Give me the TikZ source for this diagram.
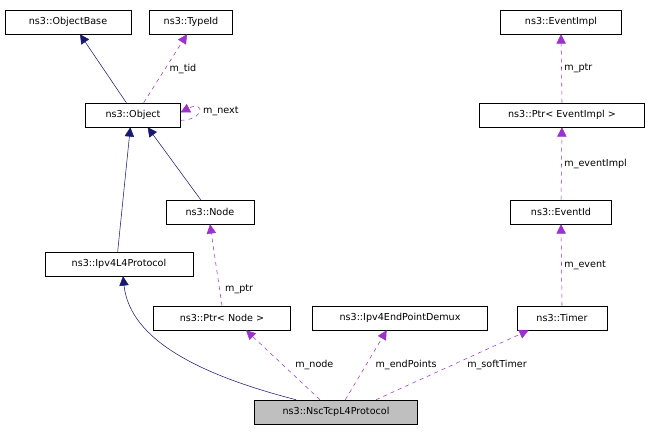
\documentclass[tikz,border=0pt]{standalone}
\usepackage{fontspec}
\setmainfont{DejaVu Sans}
\usetikzlibrary{arrows.meta}
\definecolor{inheritblue}{RGB}{25,25,112}
\definecolor{usagepurple}{RGB}{154,50,205}
\definecolor{mainbox}{RGB}{191,191,191}

\tikzset{
  cls/.style={draw, rectangle, inner sep=0pt, minimum height=18pt, font=\fontsize{7.2}{8}\selectfont},
  inherit/.style={draw=inheritblue, -{Triangle[length=7pt,width=7pt,fill=inheritblue]}},
  usage/.style={draw=usagepurple, dashed, -{Triangle[length=7pt,width=7pt,fill=usagepurple]}},
  lbl/.style={font=\fontsize{7.2}{8}\selectfont, fill=white, inner sep=1pt}
}

\begin{document}
\begin{tikzpicture}[x=0.75pt,y=-0.75pt]
    \useasboundingbox (0,0) rectangle (652,435);

    \node[cls, minimum width=94.5pt]  (objbase) at (68,22)   {ns3::ObjectBase};
    \node[cls, minimum width=62pt]    (typeid)  at (191,22)  {ns3::TypeId};
    \node[cls, minimum width=91pt]    (evimpl)  at (561,22)  {ns3::EventImpl};
    \node[cls, minimum width=71pt]    (object)  at (133,115) {ns3::Object};
    \node[cls, minimum width=124pt]   (ptrev)   at (562,115) {ns3::Ptr< EventImpl >};
    \node[cls, minimum width=66pt]    (node)    at (210,212) {ns3::Node};
    \node[cls, minimum width=76pt]    (evid)    at (561,212) {ns3::EventId};
    \node[cls, minimum width=111pt]   (ipv4l4)  at (119,264) {ns3::Ipv4L4Protocol};
    \node[cls, minimum width=103pt]   (ptrnode) at (222,318) {ns3::Ptr< Node >};
    \node[cls, minimum width=131pt]   (demux)   at (400,318) {ns3::Ipv4EndPointDemux};
    \node[cls, minimum width=67.5pt]  (timer)   at (562,318) {ns3::Timer};
    \node[cls, minimum width=122pt, fill=mainbox] (nsc) at (336,412) {ns3::NscTcpL4Protocol};

    % inheritance
    \draw[inherit] ([xshift=-5pt]object.north) -- ([xshift=9pt]objbase.south);
    \draw[inherit] ([xshift=-7pt]node.north) -- ([xshift=11pt]object.south);
    \draw[inherit] ([xshift=-1pt]ipv4l4.north) -- ([xshift=-2pt]object.south);
    \draw[inherit] ([xshift=-30pt]nsc.north) .. controls (200,375) and (130,340) .. ([xshift=3pt]ipv4l4.south);

    % usage
    \draw[usage] ([xshift=8pt]object.north) -- node[lbl, pos=0.5, right=2pt] {m\_tid} ([xshift=-3pt]typeid.south);
    \draw[usage] ([yshift=-4pt]object.east) .. controls (205,120) and (205,100) .. ([yshift=2pt]object.east)
        node[lbl, pos=0.5, right=2pt] {m\_next};
    \draw[usage] (ptrnode.north) -- node[lbl, pos=0.2, right=3pt] {m\_ptr} (node.south);
    \draw[usage] ([xshift=-12pt]nsc.north) -- node[lbl, pos=0.5, right=8pt] {m\_node} ([xshift=18pt]ptrnode.south);
    \draw[usage] ([xshift=7pt]nsc.north) -- node[lbl, pos=0.5, right=6pt] {m\_endPoints} ([xshift=-10pt]demux.south);
    \draw[usage] ([xshift=30pt]nsc.north) -- node[lbl, pos=0.5, right=10pt] {m\_softTimer} ([xshift=-25pt]timer.south);
    \draw[usage] (timer.north) -- node[lbl, pos=0.5, right=1pt] {m\_event} (evid.south);
    \draw[usage] (evid.north) -- node[lbl, pos=0.5, right=1pt] {m\_eventImpl} (ptrev.south);
    \draw[usage] (ptrev.north) -- node[lbl, pos=0.5, right=1pt] {m\_ptr} (evimpl.south);
\end{tikzpicture}
\end{document}
